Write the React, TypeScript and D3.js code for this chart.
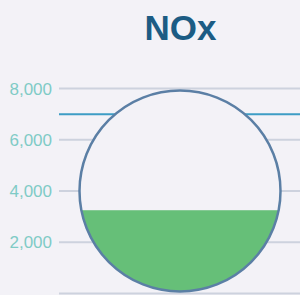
import React from "react";
import * as d3 from "d3";

const title = "NOx";
const tickValues = [0, 2000, 4000, 6000, 8000];
const limitValue = 7000;
const fillValue = 3250;
const gaugeMax = 8000;

const W = 300;
const H = 295;

export default function App() {
  const y = d3.scaleLinear().domain([0, 8000]).range([293.5, 88.5]);
  const cx = 180;
  const cy = y(gaugeMax / 2);
  const r = (y(0) - y(gaugeMax)) / 2 - 2;
  const fmt = d3.format(",");
  const fillTop = y(fillValue);
  return (
    <div style={{ position: "fixed", left: 0, top: 0, width: W, height: H, background: "#f3f2f7" }}>
      <svg width={W} height={H} style={{ display: "block" }}>
        <defs>
          <clipPath id="circClip">
            <circle cx={cx} cy={cy} r={r} />
          </clipPath>
        </defs>
        <text
          x={180.5}
          y={40}
          textAnchor="middle"
          fontFamily="Liberation Sans, Arial, sans-serif"
          fontWeight="bold"
          fontSize={35}
          fill="#1c5c84"
        >
          {title}
        </text>
        {tickValues.map((t) => (
          <g key={t}>
            <line x1={59} x2={W} y1={y(t)} y2={y(t)} stroke="#cdd2de" strokeWidth={2} />
            {t > 0 && (
              <text
                x={52}
                y={y(t)}
                dy="0.36em"
                textAnchor="end"
                fontFamily="Liberation Sans, Arial, sans-serif"
                fontSize={17}
                fill="#7fcbc6"
              >
                {fmt(t)}
              </text>
            )}
          </g>
        ))}
        <line x1={59} x2={W} y1={y(limitValue)} y2={y(limitValue)} stroke="#3d9dc5" strokeWidth={2} />
        <circle cx={cx} cy={cy} r={r} fill="#f3f2f7" />
        <rect
          x={cx - r}
          y={fillTop}
          width={2 * r}
          height={cy + r - fillTop}
          fill="#66bf78"
          clipPath="url(#circClip)"
        />
        <circle cx={cx} cy={cy} r={r} fill="none" stroke="#5b7fa5" strokeWidth={2.5} />
      </svg>
    </div>
  );
}
